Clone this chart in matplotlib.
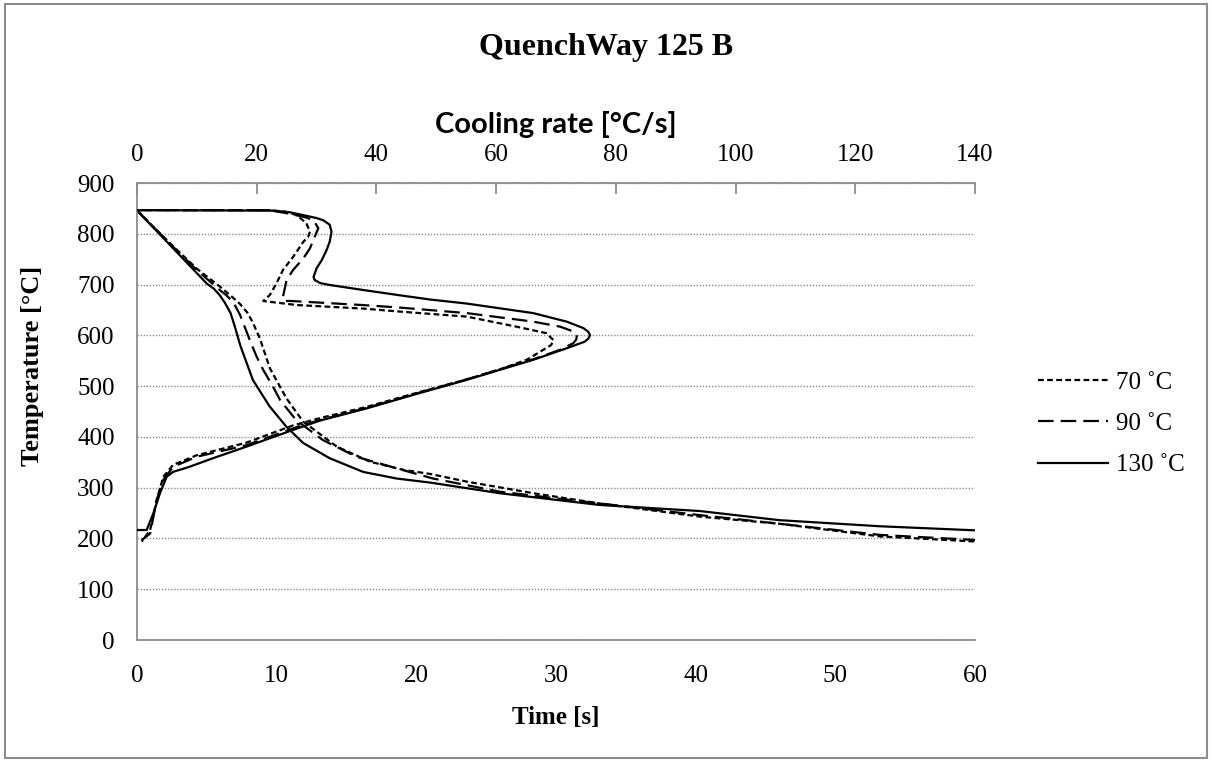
import matplotlib
matplotlib.use("Agg")
import matplotlib.pyplot as plt
from matplotlib.patches import Rectangle

# --- data ---
# temperature vs time (bottom axis)
t_70 = [0, 2.6, 4.3, 5.94, 6.8, 7.37, 7.9, 8.3, 8.8, 9.52, 10.7, 11.9, 12.4, 14.3, 16.7, 19.1, 21, 23.6, 28.4, 33.1, 40.3, 46, 53.2, 60]
T_70 = [846, 775, 731, 696, 676, 662, 645, 625, 594, 535, 476, 430, 420, 381, 351, 335, 327, 312, 289, 269, 243, 229, 204, 194]

t_90 = [0, 2.6, 4.27, 5.94, 6.4, 6.9, 7.37, 8.09, 8.57, 9.04, 9.76, 10.24, 11.4, 13.3, 15.7, 18.6, 21.2, 26, 33.1, 40.3, 46, 53.2, 60]
T_90 = [846, 774, 729, 689, 679, 665, 641, 590, 558, 532, 498, 473, 433, 394, 361, 338, 318, 292, 269, 246, 229, 207, 197]

t_130 = [0, 2.5, 5.0, 5.5, 5.9, 6.3, 6.7, 7.0, 7.4, 8.3, 9.5, 10.7, 11.9, 13.8, 16.2, 18.6, 21.0, 26, 33.1, 40.3, 46, 53.2, 60]
T_130 = [846, 774, 702, 692, 680, 664, 644, 618, 580, 512, 460, 420, 388, 358, 331, 318, 310, 289, 266, 254, 236, 224, 216]

# temperature vs cooling rate (top axis)
cr_70 = [0, 22, 24.8, 26.7, 28.3, 28.9, 28.6, 27.8, 26.1, 24.4, 23.3, 22.2, 21.1, 26.7, 37.8, 43.9, 55.1, 63.4, 68.4,
         69.6, 69.2, 67.9, 65.1, 60.6, 55.1, 47.3, 38.3, 30.6, 26, 18.3, 10, 6.06, 4.4, 3.3, 2.2, 0.8]
Tc_70 = [846.6, 846.6, 843.5, 836.7, 820.9, 804, 794, 784.3, 754.6, 728.9, 702.2, 679.4, 667.6, 659.7, 652.7, 646.8,
         636.9, 617.1, 604.3, 590.4, 581, 571.6, 551.8, 533, 513.3, 488.6, 458.9, 437.1, 422.3, 388.7, 363.9, 345.1,
         321.4, 275.9, 216.6, 193.8]

cr_90 = [0, 22, 25, 28, 29.5, 30.3, 29.7, 28.9, 27.8, 26.1, 25.0, 24.4, 24.5, 26, 37.8, 43.9, 55.1, 66.2, 70.7,
         72.6, 73.5, 73.4, 72.9, 70.7, 66.2, 60.6, 55.1, 47.3, 38.3, 30.6, 26.7, 18.3, 10, 6.06, 4.4, 3.3, 2.2, 0.8]
Tc_90 = [846.6, 846.6, 840.6, 833, 826.8, 811, 794.2, 771.4, 751.6, 728.9, 709, 676.5, 668, 667.5, 659.6, 654.7,
         643.8, 627, 617.1, 609, 600.3, 592, 584.5, 571.6, 552.8, 533, 513.3, 487.6, 456.9, 433.2, 419.3, 383.7,
         361, 341.2, 315.5, 275.9, 209.7, 196.8]

cr_130 = [0, 22.8, 25.5, 27.8, 30, 31.1, 32.2, 32.5, 32.2, 31.7, 30.9, 30.0, 29.5, 29.7, 30.6, 32.2, 37.8, 43.6, 49,
          55.1, 66.2, 71.8, 74.6, 75.4, 75.7, 75.4, 74.8, 71.8, 66.2, 60.6, 55.1, 47.3, 38.3, 30.6, 26, 18.3, 12.7,
          8.5, 6.06, 4.96, 3.84, 2.73, 1.62, 0]
Tc_130 = [846.6, 845.6, 842.5, 836.7, 831, 826.8, 818, 804, 784.3, 768.4, 748.7, 731.8, 715, 709, 703, 699.2, 689.3,
          679.4, 670.5, 662.6, 643.8, 627, 614.2, 607, 600.3, 593.5, 587.5, 574.6, 551.8, 532, 512.3, 486.6, 455.9,
          432.2, 413.4, 380.8, 358, 340, 331.3, 321.4, 288.8, 249.2, 216.6, 216.6]

labels = ["70 ˚C", "90 ˚C", "130 ˚C"]

SERIF = "Liberation Serif"
GRAY = "#8c8c8c"
LW = 1.6
STYLES = [(0, (2.6, 1.5)), (0, (7, 3.2)), "-"]

fig = plt.figure(figsize=(12.12, 7.61), dpi=100)
fig.patches.append(Rectangle((0.004, 0.004), 0.992, 0.991, transform=fig.transFigure,
                             fill=False, edgecolor=GRAY, linewidth=1.5))

ax = fig.add_axes([0.1130, 0.1590, 0.6914, 0.6005])
ax2 = ax.twiny()

# time curves
ax.plot(t_70, T_70, color="black", lw=LW, linestyle=STYLES[0])
ax.plot(t_90, T_90, color="black", lw=LW, linestyle=STYLES[1])
ax.plot(t_130, T_130, color="black", lw=LW, linestyle=STYLES[2])

# cooling rate curves
l1, = ax2.plot(cr_70, Tc_70, color="black", lw=LW, linestyle=STYLES[0], label=labels[0])
l2, = ax2.plot(cr_90, Tc_90, color="black", lw=LW, linestyle=STYLES[1], label=labels[1])
l3, = ax2.plot(cr_130, Tc_130, color="black", lw=LW, linestyle=STYLES[2], label=labels[2])

ax.set_xlim(0, 60)
ax.set_ylim(0, 900)
ax2.set_xlim(0, 140)
ax.set_xticks(range(0, 61, 10))
ax.set_yticks(range(0, 901, 100))
ax2.set_xticks(range(0, 141, 20))

ax.yaxis.grid(True, color=GRAY, linestyle=(0, (1, 1.2)), linewidth=1.0)
ax.set_axisbelow(True)

for a in (ax, ax2):
    a.spines["right"].set_visible(False)
    for s in ("left", "bottom", "top"):
        a.spines[s].set_color(GRAY)
        a.spines[s].set_linewidth(1.3)
ax.spines["top"].set_visible(False)
ax2.spines["left"].set_visible(False)
ax2.spines["bottom"].set_visible(False)

ax.tick_params(axis="both", length=0, labelsize=18, pad=16)
ax.tick_params(axis="x", pad=18)
ax2.tick_params(axis="x", direction="in", length=8, color=GRAY, width=1.3, labelsize=18, pad=12)
for lab in ax.get_xticklabels() + ax.get_yticklabels() + ax2.get_xticklabels():
    lab.set_fontfamily(SERIF)

ax.set_xlabel("Time [s]", fontfamily=SERIF, fontweight="bold", fontsize=18, labelpad=14)
ax.set_ylabel("Temperature [°C]", fontfamily=SERIF, fontweight="bold", fontsize=19, labelpad=24)
ax.yaxis.set_label_coords(-0.111, 0.60)
ax2.set_xlabel("Cooling rate [°C/s]", fontfamily="Lato", fontweight="bold", fontsize=21, labelpad=8)

fig.text(0.5, 0.938, "QuenchWay 125 B", ha="center", va="center",
         fontfamily=SERIF, fontweight="bold", fontsize=23)

fig.legend(handles=[l1, l2, l3], loc="center left", bbox_to_anchor=(0.838, 0.443),
           frameon=False, prop={"family": SERIF, "size": 18}, handlelength=2.8,
           handletextpad=0.3, labelspacing=0.75)

fig.savefig("out.png", dpi=100)
